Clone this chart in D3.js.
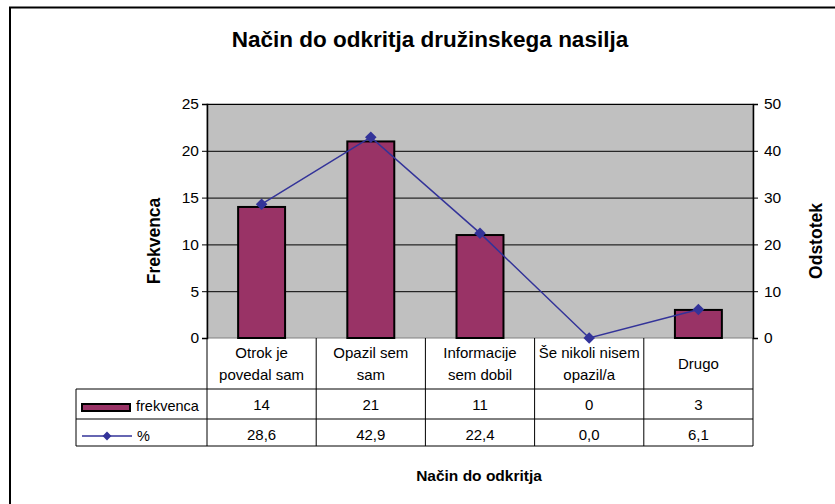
<!DOCTYPE html>
<html>
<head>
<meta charset="utf-8">
<script src="https://cdn.jsdelivr.net/npm/d3@7"></script>
<style>
  body { margin: 0; background: #fff; }
  svg { font-family: "Liberation Sans", Arial, sans-serif; }
</style>
</head>
<body>
<svg width="835" height="504"></svg>
<script>
const categories = [["Otrok je", "povedal sam"], ["Opazil sem", "sam"], ["Informacije", "sem dobil"], ["Še nikoli nisem", "opazil/a"], ["Drugo"]];
const frekvenca = [14, 21, 11, 0, 3];
const odstotek = [28.6, 42.9, 22.4, 0.0, 6.1];
const leftTicks = [0, 5, 10, 15, 20, 25];
const rightTicks = [0, 10, 20, 30, 40, 50];

const svg = d3.select("svg");
const pLeft = 207, pRight = 753, pTop = 104, pBottom = 338;

// outer chart border (runs off the right/bottom edge)
svg.append("rect")
  .attr("x", 10).attr("y", 7.5)
  .attr("width", 840).attr("height", 520)
  .attr("fill", "#fff").attr("stroke", "#000").attr("stroke-width", 2);

svg.append("text")
  .attr("x", 430).attr("y", 47)
  .attr("text-anchor", "middle")
  .attr("font-size", 22.5).attr("font-weight", "bold")
  .text("Način do odkritja družinskega nasilja");

const x = d3.scaleBand()
  .domain(d3.range(categories.length))
  .range([pLeft, pRight]);
const y = d3.scaleLinear().domain([0, 25]).range([pBottom, pTop]);
const y2 = d3.scaleLinear().domain([0, 50]).range([pBottom, pTop]);

svg.append("rect")
  .attr("x", pLeft).attr("y", pTop)
  .attr("width", pRight - pLeft).attr("height", pBottom - pTop)
  .attr("fill", "#c0c0c0").attr("stroke", "#808080");

svg.append("g")
  .selectAll("line")
  .data(leftTicks.slice(1))
  .enter().append("line")
  .attr("x1", pLeft).attr("x2", pRight)
  .attr("y1", d => y(d) + 0.5).attr("y2", d => y(d) + 0.5)
  .attr("stroke", "#000").attr("stroke-width", 1);

const bw = x.bandwidth() * 0.43;
svg.append("g")
  .selectAll("rect")
  .data(frekvenca)
  .enter().append("rect")
  .attr("x", (d, i) => x(i) + (x.bandwidth() - bw) / 2)
  .attr("y", d => y(d))
  .attr("width", bw)
  .attr("height", d => pBottom - y(d))
  .attr("fill", "#993366").attr("stroke", "#000").attr("stroke-width", 2);

const lineX = i => x(i) + x.bandwidth() / 2;
svg.append("path")
  .datum(odstotek)
  .attr("fill", "none").attr("stroke", "#333399").attr("stroke-width", 1.5)
  .attr("d", d3.line().x((d, i) => lineX(i)).y(d => y2(d)));

svg.append("g")
  .selectAll("path")
  .data(odstotek)
  .enter().append("path")
  .attr("d", d3.symbol(d3.symbolDiamond2, 85))
  .attr("transform", (d, i) => `translate(${lineX(i)},${y2(d)})`)
  .attr("fill", "#333399");

// axes
const axL = svg.append("g")
  .attr("transform", `translate(${pLeft},0)`)
  .call(d3.axisLeft(y).tickValues(leftTicks).tickSize(5).tickPadding(3));
const axR = svg.append("g")
  .attr("transform", `translate(${pRight},0)`)
  .call(d3.axisRight(y2).tickValues(rightTicks).tickSize(5).tickPadding(6));
[axL, axR].forEach(a => {
  a.selectAll("text").attr("font-size", 15.5).attr("fill", "#000")
    .attr("font-family", "Liberation Sans, Arial, sans-serif");
  a.selectAll("line").attr("stroke", "#000");
  a.select(".domain").attr("stroke", "#000").attr("stroke-width", 1.5);
});

svg.append("text")
  .attr("transform", "translate(160,241) rotate(-90)")
  .attr("text-anchor", "middle")
  .attr("font-size", 17.5).attr("font-weight", "bold")
  .text("Frekvenca");
svg.append("text")
  .attr("transform", "translate(822,241) rotate(-90)")
  .attr("text-anchor", "middle")
  .attr("font-size", 17.5).attr("font-weight", "bold")
  .text("Odstotek");

// data table
const rowCat = pBottom, rowF = 389, rowP = 419, rowEnd = 446, tLeft = 76;
const tbl = svg.append("g").attr("stroke", "#000").attr("stroke-width", 1);
tbl.append("line").attr("x1", pLeft).attr("x2", pLeft).attr("y1", pBottom).attr("y2", rowEnd);
tbl.append("line").attr("x1", pRight).attr("x2", pRight).attr("y1", pBottom).attr("y2", rowEnd);
tbl.append("line").attr("x1", tLeft).attr("x2", tLeft).attr("y1", rowF).attr("y2", rowEnd);
[rowF, rowP, rowEnd].forEach(r => {
  tbl.append("line").attr("x1", tLeft).attr("x2", pRight).attr("y1", r).attr("y2", r);
});
d3.range(1, categories.length).forEach(i => {
  tbl.append("line").attr("x1", x(i)).attr("x2", x(i)).attr("y1", pBottom).attr("y2", rowEnd);
});

categories.forEach((lines, i) => {
  const t = svg.append("text")
    .attr("text-anchor", "middle").attr("font-size", 15);
  const cy = (rowCat + rowF) / 2;
  const start = lines.length === 1 ? cy + 5 : cy - 6;
  lines.forEach((l, j) => {
    t.append("tspan").attr("x", lineX(i)).attr("y", start + j * 22).text(l);
  });
});

svg.append("g").selectAll("text")
  .data(frekvenca)
  .enter().append("text")
  .attr("x", (d, i) => lineX(i)).attr("y", 410)
  .attr("text-anchor", "middle").attr("font-size", 15)
  .text(d => d);
svg.append("g").selectAll("text")
  .data(odstotek)
  .enter().append("text")
  .attr("x", (d, i) => lineX(i)).attr("y", 440)
  .attr("text-anchor", "middle").attr("font-size", 15)
  .text(d => d.toFixed(1).replace(".", ","));

// legend keys in the table
svg.append("rect")
  .attr("x", 82).attr("y", 404).attr("width", 48).attr("height", 7)
  .attr("fill", "#993366").attr("stroke", "#000").attr("stroke-width", 2);
svg.append("text").attr("x", 136).attr("y", 411).attr("font-size", 14.5).text("frekvenca");
svg.append("line")
  .attr("x1", 82).attr("x2", 132).attr("y1", 436).attr("y2", 436)
  .attr("stroke", "#333399").attr("stroke-width", 1.5);
svg.append("path")
  .attr("d", d3.symbol(d3.symbolDiamond2, 50))
  .attr("transform", "translate(107,436)")
  .attr("fill", "#333399");
svg.append("text").attr("x", 137).attr("y", 441).attr("font-size", 14.5).text("%");

svg.append("text")
  .attr("x", 479).attr("y", 481)
  .attr("text-anchor", "middle")
  .attr("font-size", 15.5).attr("font-weight", "bold")
  .text("Način do odkritja");
</script>
</body>
</html>
